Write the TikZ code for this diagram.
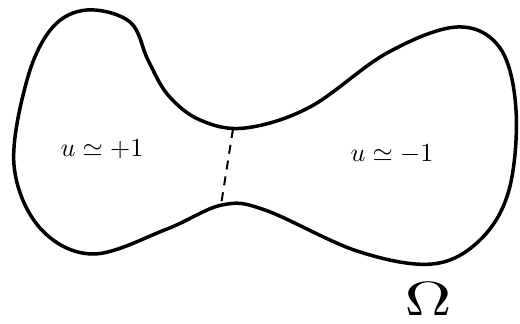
\documentclass[tikz,border=0pt]{standalone}
\tikzset{
  outline/.style={line width=3.5pt, line join=round},
  divider/.style={line width=2pt, dash pattern=on 9pt off 7pt},
  lbl/.style={inner sep=0pt, scale=2.6},
  domlbl/.style={inner sep=0pt, xscale=6.5, yscale=4.8}
}
\begin{document}
\begin{tikzpicture}[x=1pt,y=-1pt]
\useasboundingbox (0,0) rectangle (520,324);
\draw[outline] plot[smooth cycle, tension=0.6] coordinates {
(87,10) (130,22) (148,60) (168,95) (200,120) (245,128)
(310,107) (387,53) (457,27) (500,48) (516,110) (509,190) (480,240) (432,264)
(357,251) (265,210) (222,205) (167,229) (93,254) (40,228) (14,165) (27,80) (52,28)};
\coordinate (dtop) at (233,129);
\coordinate (dbot) at (221,205);
\draw[divider] (dtop) -- (dbot);
\node[lbl] (plus) at (102,149) {$u\simeq{+}1$};
\node[lbl] (minus) at (392,154) {$u\simeq{-}1$};
\node[domlbl] (omega) at (428,299) {$\Omega$};
\end{tikzpicture}
\end{document}
